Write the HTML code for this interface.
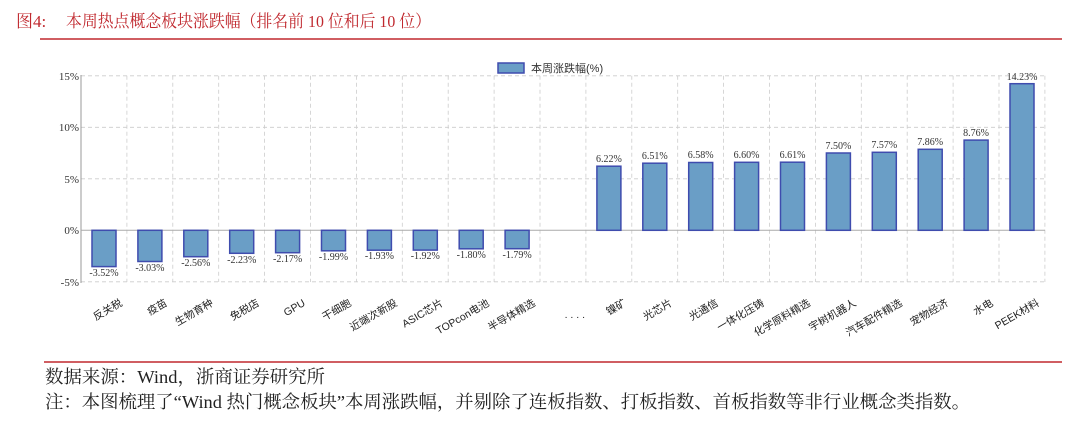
<!DOCTYPE html>
<html><head><meta charset="utf-8"><style>
body{margin:0;background:#fff;width:1080px;height:426px;overflow:hidden}
svg{display:block}
</style></head><body>
<svg width="1080" height="426" xmlns="http://www.w3.org/2000/svg">
<text x="16" y="27" font-family="Liberation Serif,Noto Serif CJK SC,serif" font-size="17" fill="#c0282e">图4:</text>
<text x="66" y="27" font-family="Liberation Serif,Noto Serif CJK SC,serif" font-size="17" fill="#c0282e" textLength="365" lengthAdjust="spacingAndGlyphs">本周热点概念板块涨跌幅（排名前 10 位和后 10 位）</text>
<line x1="40" y1="39" x2="1062" y2="39" stroke="#c0282e" stroke-width="1.5"/>
<g stroke="#ccc" stroke-dasharray="4,3" stroke-width="0.8">
<line x1="81" y1="75.8" x2="1045" y2="75.8"/><line x1="81" y1="127.3" x2="1045" y2="127.3"/><line x1="81" y1="178.8" x2="1045" y2="178.8"/><line x1="81" y1="281.8" x2="1045" y2="281.8"/>
<line x1="126.9" y1="75.8" x2="126.9" y2="282"/><line x1="172.8" y1="75.8" x2="172.8" y2="282"/><line x1="218.7" y1="75.8" x2="218.7" y2="282"/><line x1="264.6" y1="75.8" x2="264.6" y2="282"/><line x1="310.5" y1="75.8" x2="310.5" y2="282"/><line x1="356.4" y1="75.8" x2="356.4" y2="282"/><line x1="402.3" y1="75.8" x2="402.3" y2="282"/><line x1="448.2" y1="75.8" x2="448.2" y2="282"/><line x1="494.1" y1="75.8" x2="494.1" y2="282"/><line x1="540" y1="75.8" x2="540" y2="282"/><line x1="585.9" y1="75.8" x2="585.9" y2="282"/><line x1="631.8" y1="75.8" x2="631.8" y2="282"/><line x1="677.7" y1="75.8" x2="677.7" y2="282"/><line x1="723.6" y1="75.8" x2="723.6" y2="282"/><line x1="769.5" y1="75.8" x2="769.5" y2="282"/><line x1="815.4" y1="75.8" x2="815.4" y2="282"/><line x1="861.3" y1="75.8" x2="861.3" y2="282"/><line x1="907.2" y1="75.8" x2="907.2" y2="282"/><line x1="953.1" y1="75.8" x2="953.1" y2="282"/><line x1="999" y1="75.8" x2="999" y2="282"/><line x1="1044.9" y1="75.8" x2="1044.9" y2="282"/>
</g>
<line x1="81" y1="75" x2="81" y2="283" stroke="#999" stroke-width="1"/>
<line x1="81" y1="230.3" x2="1045" y2="230.3" stroke="#aaa" stroke-width="1"/>
<g font-family="Liberation Serif,serif" font-size="11" fill="#333" text-anchor="end">
<text x="79" y="80">15%</text><text x="79" y="131">10%</text><text x="79" y="183">5%</text><text x="79" y="234">0%</text><text x="79" y="286">-5%</text>
</g>
<g fill="#6a9ec6" stroke="#3f4cae" stroke-width="1.5">
<rect x="92" y="230.3" width="24" height="36.3"/><rect x="137.9" y="230.3" width="24" height="31.2"/><rect x="183.8" y="230.3" width="24" height="26.4"/><rect x="229.7" y="230.3" width="24" height="23"/><rect x="275.6" y="230.3" width="24" height="22.4"/><rect x="321.5" y="230.3" width="24" height="20.5"/><rect x="367.4" y="230.3" width="24" height="19.9"/><rect x="413.3" y="230.3" width="24" height="19.8"/><rect x="459.2" y="230.3" width="24" height="18.5"/><rect x="505.1" y="230.3" width="24" height="18.4"/>
<rect x="596.9" y="166.2" width="24" height="64.1"/><rect x="642.8" y="163.2" width="24" height="67.1"/><rect x="688.7" y="162.5" width="24" height="67.8"/><rect x="734.6" y="162.3" width="24" height="68"/><rect x="780.5" y="162.2" width="24" height="68.1"/><rect x="826.4" y="153" width="24" height="77.3"/><rect x="872.3" y="152.3" width="24" height="78"/><rect x="918.2" y="149.3" width="24" height="81"/><rect x="964.1" y="140.1" width="24" height="90.2"/><rect x="1010" y="83.7" width="24" height="146.6"/>
</g>
<g font-family="Liberation Serif,serif" font-size="10" fill="#333" text-anchor="middle">
<text x="104" y="276">-3.52%</text><text x="149.9" y="271">-3.03%</text><text x="195.8" y="266">-2.56%</text><text x="241.7" y="263">-2.23%</text><text x="287.6" y="262">-2.17%</text><text x="333.5" y="260">-1.99%</text><text x="379.4" y="259">-1.93%</text><text x="425.3" y="259">-1.92%</text><text x="471.2" y="258">-1.80%</text><text x="517.1" y="258">-1.79%</text>
<text x="608.9" y="162">6.22%</text><text x="654.8" y="159">6.51%</text><text x="700.7" y="158">6.58%</text><text x="746.6" y="158">6.60%</text><text x="792.5" y="158">6.61%</text><text x="838.4" y="149">7.50%</text><text x="884.3" y="148">7.57%</text><text x="930.2" y="145">7.86%</text><text x="976.1" y="136">8.76%</text><text x="1022" y="80">14.23%</text>
</g>
<g font-family="Liberation Sans,Noto Sans CJK SC,sans-serif" font-size="10.5" fill="#222" text-anchor="end">
<text transform="translate(123,305) rotate(-30)">反关税</text>
<text transform="translate(168,305) rotate(-30)">疫苗</text>
<text transform="translate(214,305) rotate(-30)">生物育种</text>
<text transform="translate(260,305) rotate(-30)">免税店</text>
<text transform="translate(306,305) rotate(-30)">GPU</text>
<text transform="translate(352,305) rotate(-30)">干细胞</text>
<text transform="translate(398,305) rotate(-30)">近端次新股</text>
<text transform="translate(444,305) rotate(-30)">ASIC芯片</text>
<text transform="translate(490,305) rotate(-30)">TOPcon电池</text>
<text transform="translate(536,305) rotate(-30)">半导体精选</text>
<text transform="translate(585,318)">. . . .</text>
<text transform="translate(627,305) rotate(-30)">镍矿</text>
<text transform="translate(673,305) rotate(-30)">光芯片</text>
<text transform="translate(719,305) rotate(-30)">光通信</text>
<text transform="translate(765,305) rotate(-30)">一体化压铸</text>
<text transform="translate(811,305) rotate(-30)">化学原料精选</text>
<text transform="translate(857,305) rotate(-30)">宇树机器人</text>
<text transform="translate(903,305) rotate(-30)">汽车配件精选</text>
<text transform="translate(949,305) rotate(-30)">宠物经济</text>
<text transform="translate(994,305) rotate(-30)">水电</text>
<text transform="translate(1040,305) rotate(-30)">PEEK材料</text>
</g>
<rect x="498" y="63" width="26" height="10" fill="#6a9ec6" stroke="#3f4cae" stroke-width="1.5"/>
<text x="531" y="72" font-family="Liberation Sans,Noto Sans CJK SC,sans-serif" font-size="11" fill="#333">本周涨跌幅(%)</text>
<line x1="44" y1="362" x2="1062" y2="362" stroke="#c0282e" stroke-width="1.5"/>
<text x="45" y="383" font-family="Liberation Serif,Noto Serif CJK SC,serif" font-size="18" fill="#222" textLength="280" lengthAdjust="spacingAndGlyphs">数据来源：Wind，浙商证券研究所</text>
<text x="45" y="408" font-family="Liberation Serif,Noto Serif CJK SC,serif" font-size="18" fill="#222" textLength="925" lengthAdjust="spacingAndGlyphs">注：本图梳理了“Wind 热门概念板块”本周涨跌幅，并剔除了连板指数、打板指数、首板指数等非行业概念类指数。</text>
</svg>
</body></html>
